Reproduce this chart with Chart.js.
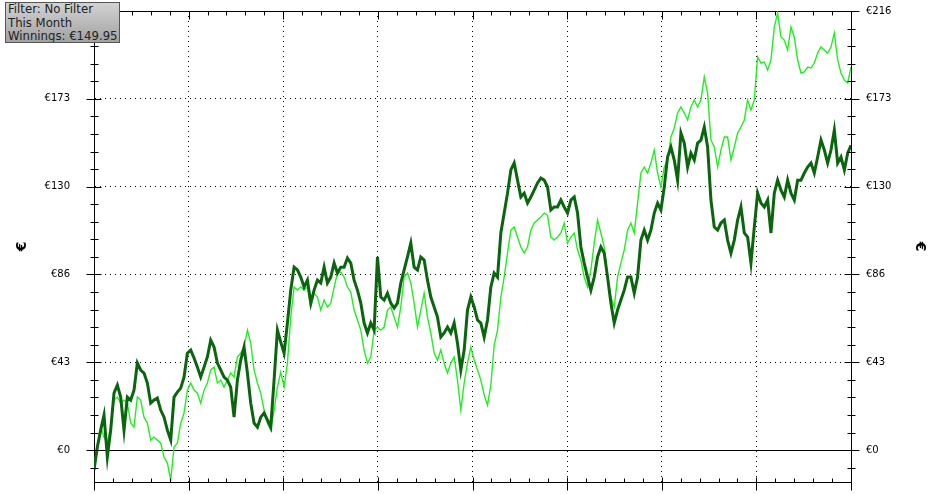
<!DOCTYPE html>
<html lang="en">
<head>
<meta charset="UTF-8">
<title>Winnings</title>
<script src="https://cdn.jsdelivr.net/npm/chart.js@4"></script>
<style>
  body { margin: 0; background: #fff; }
  #wrap { position: relative; width: 932px; height: 494px; }
  #info {
    position: absolute; left: 5px; top: 2px; width: 110px; height: 39px;
    padding: 0 1px 0 2px; border: 1px solid #555;
    background: linear-gradient(#d2d2d2, #a2a2a2);
    font: 11.7px "DejaVu Sans", sans-serif; line-height: 13.6px; color: #222;
    white-space: nowrap; overflow: hidden;
  }
</style>
</head>
<body>
<div id="wrap">
  <canvas id="chart" width="932" height="494"></canvas>
  <div id="info">Filter: No Filter<br>This Month<br>Winnings: €149.95</div>
</div>
<script>
// winnings per hand (dark line) and all-in adjusted (light line), in €
const winnings = [
  -9.8, 1.5, 9.8, 17.2, -3.4, 9.8, 28.0, 32.0, 26.1, 9.8,
  26.1, 24.6, 29.5, 42.8, 39.4, 37.9, 33.0, 23.1, 24.6, 25.6,
  19.7, 16.2, 9.8, 4.9, 26.1, 28.5, 30.5, 35.9, 47.7, 49.2,
  45.3, 40.8, 35.9, 40.8, 45.8, 54.1, 50.7, 42.8, 39.4, 35.9,
  34.4, 31.0, 16.2, 34.4, 44.3, 50.7, 37.9, 23.1, 13.3, 11.3,
  16.2, 18.2, 14.8, 11.3, 34.4, 59.0, 53.1, 47.7, 62.5, 78.7,
  90.0, 88.6, 85.1, 80.2, 83.6, 72.3, 78.7, 83.6, 82.2, 90.0,
  82.2, 85.1, 92.0, 87.1, 90.0, 90.0, 94.5, 92.0, 83.6, 78.7,
  72.3, 62.5, 57.6, 62.5, 59.0, 95.0, 75.3, 73.8, 77.2, 72.3,
  69.9, 72.3, 82.2, 88.6, 95.0, 101.8, 90.0, 88.6, 95.0, 93.5,
  83.6, 75.3, 70.4, 65.4, 55.6, 57.6, 60.5, 57.6, 62.5, 52.6,
  39.4, 49.2, 68.9, 75.3, 70.4, 64.0, 62.5, 55.6, 64.0, 80.2,
  87.1, 85.1, 106.8, 116.6, 126.4, 137.8, 141.2, 132.8, 124.5, 126.4,
  121.5, 124.5, 127.9, 131.4, 133.8, 132.8, 129.4, 118.1, 119.6, 119.6,
  123.0, 119.6, 116.6, 123.0, 124.5, 116.6, 99.9, 92.0, 85.1, 78.7,
  85.1, 95.0, 99.9, 96.9, 85.1, 72.3, 62.5, 68.9, 73.8, 78.7,
  85.1, 85.1, 77.2, 85.1, 103.3, 108.2, 103.3, 108.2, 116.6, 121.5,
  118.1, 129.4, 144.2, 149.1, 142.7, 132.8, 156.0, 151.0, 139.2, 146.1,
  142.7, 151.0, 152.5, 158.9, 149.1, 123.0, 109.7, 108.2, 111.7, 113.2,
  103.3, 96.9, 103.3, 113.2, 119.6, 106.8, 104.8, 92.0, 109.7, 126.4,
  121.5, 119.6, 123.0, 106.8, 126.4, 132.8, 127.9, 124.5, 132.8, 126.4,
  123.0, 132.8, 132.8, 136.3, 139.2, 141.2, 136.3, 144.2, 152.5, 147.6,
  141.2, 147.6, 157.4, 141.2, 144.2, 137.8, 146.1, 149.95
];
const allInEv = [
  -5.9, 0, 11.3, 6.4, 3.4, 11.3, 24.6, 26.1, 23.1, 24.6,
  23.1, 13.3, 11.3, 26.1, 24.6, 16.2, 13.3, 4.9, 6.4, 4.9,
  3.4, -3.4, -6.4, -14.8, 1.5, 3.4, 13.3, 18.2, 29.5, 33.0,
  29.5, 28.0, 23.1, 29.5, 33.0, 39.4, 40.8, 33.0, 34.4, 31.0,
  34.4, 37.9, 35.9, 45.8, 47.7, 50.7, 59.0, 52.6, 39.4, 33.0,
  28.0, 19.7, 13.3, 9.8, 19.7, 31.0, 38.4, 31.0, 42.8, 65.4,
  80.2, 78.7, 80.2, 78.7, 80.2, 70.4, 77.2, 75.3, 68.9, 73.8,
  70.4, 72.3, 80.2, 87.1, 87.6, 85.1, 80.2, 77.7, 68.9, 64.0,
  59.0, 49.2, 42.8, 45.8, 59.0, 60.5, 59.0, 60.5, 68.9, 70.4,
  65.4, 60.5, 70.4, 85.1, 87.1, 82.2, 72.3, 60.5, 68.9, 77.2,
  65.4, 57.6, 47.7, 44.3, 49.2, 42.8, 37.9, 42.8, 45.8, 34.4,
  19.7, 33.0, 42.8, 50.7, 44.3, 39.4, 34.4, 27.1, 22.1, 32.0,
  51.7, 59.0, 75.3, 85.1, 96.9, 108.2, 109.7, 104.8, 99.9, 96.9,
  99.9, 108.2, 111.7, 113.2, 114.6, 116.6, 115.6, 104.8, 103.3, 104.8,
  106.8, 111.7, 101.8, 104.8, 106.8, 98.4, 93.5, 85.1, 80.2, 88.6,
  101.8, 113.2, 106.8, 99.9, 85.1, 75.3, 70.4, 85.1, 92.0, 98.4,
  108.2, 111.7, 106.8, 121.5, 136.3, 139.2, 136.3, 141.2, 147.6, 136.3,
  129.4, 139.2, 142.7, 154.0, 158.4, 165.8, 168.8, 165.8, 162.4, 168.8,
  172.2, 168.8, 172.2, 183.5, 175.6, 152.5, 149.1, 139.2, 147.6, 154.0,
  154.0, 142.7, 149.1, 156.0, 158.9, 162.4, 172.2, 167.3, 172.2, 193.4,
  190.4, 190.9, 187.0, 191.9, 208.1, 215.0, 203.2, 201.7, 196.8, 208.1,
  203.2, 191.9, 185.5, 186.0, 188.4, 188.0, 190.4, 195.3, 198.3, 196.8,
  195.3, 198.3, 205.2, 191.9, 185.5, 182.0, 180.6, 188.4
];
const yTickValues = [0, 43.2, 86.4, 129.6, 172.8, 216];
const yTickLabels = ['€0', '€43', '€86', '€130', '€173', '€216'];
const yMin = -15.7;
const xDivisions = 8;
const minorPerMajor = 5;

const lastHand = winnings.length - 1;
const toPoints = arr => arr.map((v, i) => ({ x: i, y: v }));
const dotted = ctx => (ctx.tick && ctx.tick.value === 0 && ctx.scale.axis === 'y') ? [] : [1, 4];

// minor / major tick marks crossing the frame
const frameTicks = {
  id: 'frameTicks',
  afterDraw(chart) {
    const { ctx, chartArea: a } = chart;
    const xs = chart.scales.x, ys = chart.scales.y;
    ctx.save();
    ctx.strokeStyle = '#000';
    ctx.lineWidth = 1;
    const line = (x1, y1, x2, y2) => {
      ctx.beginPath(); ctx.moveTo(x1, y1); ctx.lineTo(x2, y2); ctx.stroke();
    };
    const yStep = yTickValues[1] / minorPerMajor;
    const lx = Math.round(a.left) + 0.5, rx = Math.round(a.right) + 0.5;
    for (let v = Math.ceil(yMin / yStep) * yStep; v <= yTickValues[yTickValues.length - 1] + 0.01; v += yStep) {
      const py = Math.round(ys.getPixelForValue(v)) + 0.5;
      const major = yTickValues.some(t => Math.abs(t - v) < 0.01);
      if (major) { line(lx - 8, py, lx + 7, py); line(rx - 7, py, rx + 8, py); }
      else { line(lx - 4, py, lx + 4, py); line(rx - 4, py, rx + 4, py); }
    }
    const n = xDivisions * minorPerMajor;
    const by = Math.round(a.bottom) + 0.5, ty = Math.round(a.top) + 0.5;
    for (let j = 0; j <= n; j++) {
      const px = Math.round(xs.getPixelForValue(j * lastHand / n)) + 0.5;
      if (j % minorPerMajor === 0) { line(px, by - 5, px, by + 8); line(px, ty, px, ty + 8); }
      else { line(px, by - 4, px, by); line(px, ty, px, ty + 4); }
    }
    ctx.restore();
  }
};

const tickFont = { family: 'DejaVu Sans', size: 10 };
const titleFont = { family: 'DejaVu Sans', size: 14, weight: 'bold' };

new Chart(document.getElementById('chart'), {
  type: 'line',
  data: {
    datasets: [
      { label: 'Winnings', data: toPoints(winnings), borderColor: '#0b650f', borderWidth: 3,
        pointRadius: 0, tension: 0 },
      { label: 'All-in EV', data: toPoints(allInEv), borderColor: '#25ec25', borderWidth: 1.4,
        pointRadius: 0, tension: 0 }
    ]
  },
  options: {
    responsive: false,
    animation: false,
    layout: { padding: { top: 11 } },
    plugins: { legend: { display: false }, tooltip: { enabled: false } },
    scales: {
      x: {
        type: 'linear', position: 'bottom', min: 0, max: lastHand,
        afterBuildTicks: s => {
          s.ticks = [];
          for (let j = 0; j <= xDivisions; j++) s.ticks.push({ value: j * lastHand / xDivisions });
        },
        afterFit: s => { s.height = 12; },
        ticks: { display: false },
        grid: { color: '#000', lineWidth: 1, drawTicks: false },
        border: { display: true, color: '#000', width: 1, dash: dotted }
      },
      x2: {
        type: 'linear', position: 'top', min: 0, max: lastHand,
        afterFit: s => { s.height = 0; },
        ticks: { display: false },
        grid: { display: false, drawTicks: false },
        border: { display: true, color: '#000', width: 1 }
      },
      y: {
        type: 'linear', position: 'left', min: yMin, max: 216,
        afterBuildTicks: s => { s.ticks = yTickValues.map(v => ({ value: v })); },
        afterFit: s => { s.width = 94; },
        ticks: { callback: (v, i) => yTickLabels[i], color: '#000', padding: 0, font: tickFont },
        grid: { color: '#000', lineWidth: 1, drawTicks: true, tickLength: 24, tickColor: 'rgba(0,0,0,0)' },
        border: { display: true, color: '#000', width: 1, dash: dotted },
        title: { display: true, text: '€', color: '#000', padding: { top: 14, bottom: 0 }, font: titleFont }
      },
      y2: {
        type: 'linear', position: 'right', min: yMin, max: 216,
        afterBuildTicks: s => { s.ticks = yTickValues.map(v => ({ value: v })); },
        afterFit: s => { s.width = 81; },
        ticks: { callback: (v, i) => yTickLabels[i], color: '#000', padding: 0, font: tickFont },
        grid: { color: 'rgba(0,0,0,0)', drawOnChartArea: false, drawTicks: true, tickLength: 15,
                tickColor: 'rgba(0,0,0,0)' },
        border: { display: true, color: '#000', width: 1 },
        title: { display: true, text: '€', color: '#000', padding: { top: 4, bottom: 0 }, font: titleFont }
      }
    }
  },
  plugins: [frameTicks]
});
</script>
</body>
</html>
